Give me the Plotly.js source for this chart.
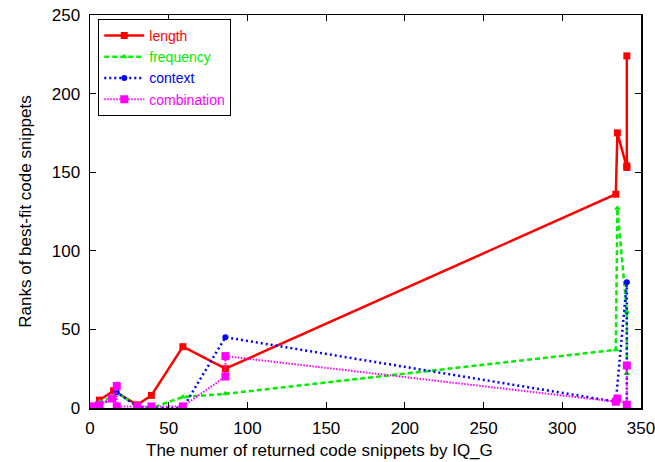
<!DOCTYPE html>
<html>
<head>
<meta charset="utf-8">
<script src="https://cdn.plot.ly/plotly-3.0.1.min.js"></script>
<style>html,body{margin:0;padding:0;background:#fff;}#chart{width:655px;height:462px;}</style>
</head>
<body>
<div id="chart"></div>
<script>
// Series names
var seriesNames = ["length", "frequency", "context", "combination"];

// length (red)
var lengthX = [1, 6, 15, 30, 39, 59, 86, 334, 335, 341, 341, 341];
var lengthY = [1, 5, 11, 2, 8, 39, 25, 136, 175, 154, 153, 224];

// frequency (green)
var frequencyX = [1, 6, 14, 17, 30, 39, 59, 86, 334, 335, 341, 341];
var frequencyY = [1, 4, 7, 10, 1, 0, 7, 9, 37, 127, 61, 22];

// context (blue)
var contextX = [1, 6, 15, 17, 30, 39, 59, 86, 334, 341, 341];
var contextY = [0, 2, 6, 10, 1, 0, 0, 45, 4, 80, 2];

// combination (magenta)
var combinationX = [1, 6, 14, 17, 17, 30, 39, 59, 86, 86, 334, 335, 341, 341];
var combinationY = [1, 2, 6, 14, 1, 1, 1, 1, 20, 33, 4, 6, 2, 27];

var xTicks = [0, 50, 100, 150, 200, 250, 300, 350];
var yTicks = [0, 50, 100, 150, 200, 250];
var xTitle = "The numer of returned code snippets by IQ_G";
var yTitle = "Ranks of best-fit code snippets";

var colors = ["#ff0000", "#00ee00", "#0000ff", "#ff00ff"];

function lbl(name, c) { return '<span style="color:' + c + '">' + name + '</span>'; }

var traces = [
  {x: lengthX, y: lengthY, name: lbl(seriesNames[0], colors[0]), mode: "lines+markers",
   line: {color: colors[0], width: 2.5, dash: "solid"},
   marker: {symbol: "square", size: 7, color: colors[0]}},
  {x: frequencyX, y: frequencyY, name: lbl(seriesNames[1], colors[1]), mode: "lines+markers",
   line: {color: colors[1], width: 2.5, dash: "5px,3px"},
   marker: {symbol: "triangle-up", size: 6, color: colors[1]}},
  {x: contextX, y: contextY, name: lbl(seriesNames[2], colors[2]), mode: "lines+markers",
   line: {color: colors[2], width: 2.5, dash: "2px,3px"},
   marker: {symbol: "circle", size: 6, color: colors[2]}},
  {x: combinationX, y: combinationY, name: lbl(seriesNames[3], colors[3]), mode: "lines+markers",
   line: {color: colors[3], width: 2, dash: "1.5px,1.5px"},
   marker: {symbol: "square", size: 8, color: colors[3]}}
];

var axisFont = {family: "Liberation Sans, Arial, sans-serif", size: 17, color: "#000"};

var layout = {
  width: 655, height: 462,
  margin: {l: 90, r: 14, t: 15, b: 54},
  paper_bgcolor: "#fff", plot_bgcolor: "#fff",
  showlegend: true,
  font: axisFont,
  xaxis: {
    range: [0, 350], tickvals: xTicks, ticktext: xTicks.map(String),
    ticks: "inside", ticklen: 6, tickcolor: "#000", mirror: "ticks",
    showline: true, linecolor: "#000", linewidth: 1.5, showgrid: false, zeroline: false,
    tickfont: axisFont, ticklabelstandoff: 4, ticklabeloverflow: "allow"
  },
  yaxis: {
    range: [0, 250], tickvals: yTicks, ticktext: yTicks.map(String),
    ticks: "inside", ticklen: 6, tickcolor: "#000", mirror: "ticks",
    showline: true, linecolor: "#000", linewidth: 1.5, showgrid: false, zeroline: false,
    tickfont: axisFont, ticklabelstandoff: 5, ticklabeloverflow: "allow",
    title: {text: yTitle, font: axisFont, standoff: 16}
  },
  annotations: [
    {text: xTitle, xref: "paper", yref: "paper", x: 0.417, y: -0.109,
     xanchor: "center", yanchor: "middle", showarrow: false, font: axisFont}
  ],
  legend: {
    x: 0.015, y: 0.99, xanchor: "left", yanchor: "top",
    bgcolor: "#fff", bordercolor: "#000", borderwidth: 1,
    font: {family: "Liberation Sans, Arial, sans-serif", size: 14},
    tracegroupgap: 0, itemwidth: 40
  }
};

Plotly.newPlot("chart", traces, layout, {staticPlot: true, displayModeBar: false});
</script>
</body>
</html>
